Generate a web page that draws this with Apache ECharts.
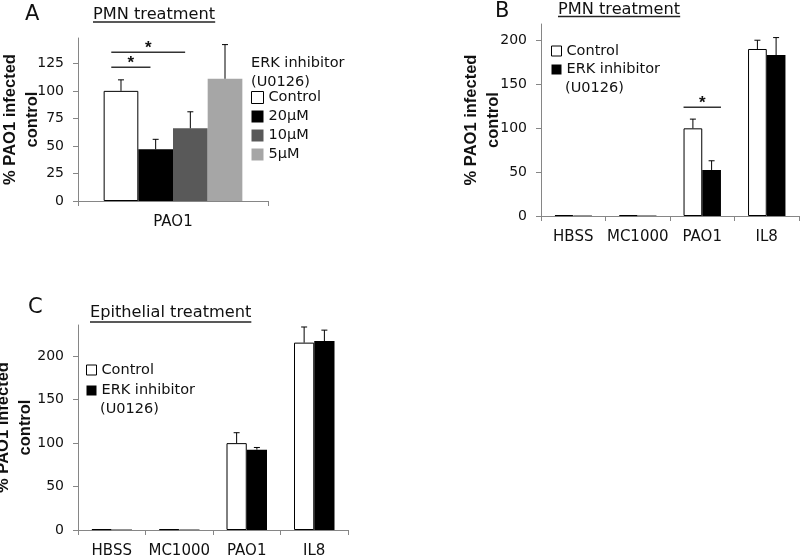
<!DOCTYPE html>
<html>
<head>
<meta charset="utf-8">
<script src="https://cdn.jsdelivr.net/npm/echarts@6/dist/echarts.min.js"></script>
<style>
html,body{margin:0;padding:0;background:#fff;}
#chart{width:800px;height:558px;}
</style>
</head>
<body>
<div id="chart"></div>
<script>
// ---------- DATA ----------
// Panel A (PMN treatment, PAO1)
const catsA = ['PAO1'];
const namesA = ['Control', '20µM', '10µM', '5µM'];
const valControlA = [100];
const val20A = [47];
const val10A = [66];
const val5A = [111];
const errControlA = [10];
const err20A = [9];
const err10A = [15];
const err5A = [31];
const ticksA = [0, 25, 50, 75, 100, 125];
// significance: [category, fromBar, toBar, y]
const sigA = [[0, 0, 1, 121.5], [0, 0, 2, 135]];

// Panel B (PMN treatment)
const catsB = ['HBSS', 'MC1000', 'PAO1', 'IL8'];
const valControlB = [1, 1, 100, 190.5];
const valErkB = [0.5, 0.5, 52.5, 183.5];
const errControlB = [0, 0, 10.5, 10];
const errErkB = [0, 0, 10.5, 20];
const ticksB = [0, 50, 100, 150, 200];
const sigB = [[2, 0, 1, 124]];

// Panel C (Epithelial treatment)
const catsC = ['HBSS', 'MC1000', 'PAO1', 'IL8'];
const valControlC = [1, 1, 100, 215.7];
const valErkC = [0.5, 0.5, 92.5, 217.6];
const errControlC = [0, 0, 12, 18];
const errErkC = [0, 0, 2.5, 12.5];
const ticksC = [0, 50, 100, 150, 200];

const erkName = 'ERK inhibitor (U0126)';

// ---------- STYLE ----------
const FONT = 'DejaVu Sans';
const TXT = '#111';
const AXIS = '#868686';
const styles = {
  'Control': {color: '#fff', borderColor: '#000', borderWidth: 1},
  '20µM': {color: '#000'},
  '10µM': {color: '#595959'},
  '5µM': {color: '#a6a6a6'},
  [erkName]: {color: '#000'}
};

function errRender(n, i, gap) {
  return function (params, api) {
    const x = api.value(0), v = api.value(1), e = api.value(2);
    if (!e) return null;
    const band = api.size([1, 0])[0];
    const bw = band * (1 - gap) / n;
    const c = api.coord([x, v]);
    const t = api.coord([x, v + e]);
    const cx = c[0] + (i - (n - 1) / 2) * bw;
    return {type: 'group', children: [
      {type: 'line', shape: {x1: cx, y1: c[1], x2: cx, y2: t[1]}, style: {stroke: '#000', lineWidth: 1}},
      {type: 'line', shape: {x1: cx - 3, y1: t[1], x2: cx + 3, y2: t[1]}, style: {stroke: '#000', lineWidth: 1}}
    ]};
  };
}
function sigRender(n, gap, startF, endF) {
  return function (params, api) {
    const x = api.value(0), a = api.value(1), b = api.value(2), y = api.value(3);
    const band = api.size([1, 0])[0];
    const bw = band * (1 - gap) / n;
    const c = api.coord([x, y]);
    const ca = c[0] + (a - (n - 1) / 2) * bw + startF * bw;
    const cb = c[0] + (b - (n - 1) / 2) * bw + endF * bw;
    return {type: 'group', children: [
      {type: 'line', shape: {x1: ca, y1: c[1], x2: cb, y2: c[1]}, style: {stroke: '#333', lineWidth: 1.5}},
      {type: 'text', x: (ca + cb) / 2, y: c[1] - 4, style: {text: '*', font: 'bold 17px "Liberation Sans"', fill: '#111', align: 'center', verticalAlign: 'middle'}}
    ]};
  };
}

function barSeries(name, data, xi, gap) {
  return {type: 'bar', name: name, data: data, xAxisIndex: xi, yAxisIndex: xi,
    barGap: '0%', barCategoryGap: (gap * 100) + '%', itemStyle: styles[name], z: 2, silent: true};
}
function errSeries(vals, errs, xi, n, i, gap) {
  return {type: 'custom', name: 'err' + xi + '_' + i, xAxisIndex: xi, yAxisIndex: xi, z: 5,
    data: vals.map((v, k) => [k, v, errs[k]]), encode: {x: 0, y: 1}, renderItem: errRender(n, i, gap), silent: true};
}
function sigSeries(sig, xi, n, gap, sf, ef) {
  return {type: 'custom', name: 'sig' + xi, xAxisIndex: xi, yAxisIndex: xi, z: 6,
    data: sig, encode: {x: 0, y: 3}, renderItem: sigRender(n, gap, sf, ef), silent: true};
}

function xAxis(cats, gi) {
  return {type: 'category', data: cats, gridIndex: gi,
    axisLine: {lineStyle: {color: AXIS, width: 1}},
    axisTick: {show: true, length: 5, lineStyle: {color: AXIS}},
    axisLabel: {fontFamily: FONT, fontSize: 15, color: TXT, margin: 14, interval: 0, hideOverlap: false}};
}
function yAxis(gi, max, ticks, gap) {
  return {type: 'value', gridIndex: gi, min: 0, max: max,
    name: '% PAO1 infected\ncontrol', nameLocation: 'middle', nameGap: gap, nameMoveOverlap: false,
    nameTextStyle: {fontFamily: 'Liberation Sans', fontWeight: 'bold', fontSize: 16.5, lineHeight: 22, color: TXT},
    axisLine: {show: true, lineStyle: {color: AXIS, width: 1}},
    axisTick: {show: true, length: 5, lineStyle: {color: AXIS}, customValues: ticks},
    axisLabel: {fontFamily: FONT, fontSize: 14, color: TXT, margin: 14, customValues: ticks},
    splitLine: {show: false}};
}

const gapA = 0.27, gapB = 0.42, gapC = 0.40;

function textWidth(t, font) {
  const ctx = document.createElement('canvas').getContext('2d');
  ctx.font = font;
  return ctx.measureText(t).width;
}
const HEAD_SIZE = 16.2;
const headFont = HEAD_SIZE + 'px "DejaVu Sans"';
function heading(text, left, top) {
  return {text: text, left: left, top: top, padding: 0,
    textStyle: {fontFamily: FONT, fontSize: HEAD_SIZE, fontWeight: 'normal', color: TXT}};
}
function letter(text, left, top) {
  return {text: text, left: left, top: top, padding: 0,
    textStyle: {fontFamily: FONT, fontSize: 21, fontWeight: 'normal', color: TXT}};
}
function plain(text, left, top) {
  return {text: text, left: left, top: top, padding: 0,
    textStyle: {fontFamily: FONT, fontSize: 14.5, fontWeight: 'normal', color: TXT, lineHeight: 18.7}};
}
function underline(text, x, y) {
  const w = textWidth(text, headFont);
  return {type: 'line', shape: {x1: x, y1: y, x2: x + w, y2: y}, style: {stroke: '#222', lineWidth: 1.3}, silent: true};
}

function legendItem(name) {
  return {name: name, icon: 'rect', itemStyle: styles[name]};
}
const legText = {fontFamily: FONT, fontSize: 14.5, color: TXT};
const legFmt = n => n === erkName ? 'ERK inhibitor' : n;

const option = {
  animation: false,
  backgroundColor: '#fff',
  title: [
    letter('A', 25, 4), heading('PMN treatment', 93, 7),
    plain('ERK inhibitor\n(U0126)', 251, 54),
    letter('B', 495, 1), heading('PMN treatment', 558, 2),
    plain('(U0126)', 565, 78.5),
    letter('C', 28, 297), heading('Epithelial treatment', 90, 305),
    plain('(U0126)', 100, 399.5)
  ],
  graphic: [
    underline('PMN treatment', 93, 22),
    underline('PMN treatment', 558, 16.5),
    underline('Epithelial treatment', 90, 322)
  ],
  legend: [
    {orient: 'vertical', left: 251, top: 90, itemWidth: 12, itemHeight: 12, itemGap: 4, padding: 0,
      selectedMode: false, textStyle: legText,
      data: namesA.map(n => legendItem(n))},
    {orient: 'vertical', left: 551, top: 43.5, itemWidth: 10, itemHeight: 10, itemGap: 3.5, padding: 0,
      selectedMode: false, textStyle: legText, formatter: legFmt,
      data: [legendItem('Control'), legendItem(erkName)]},
    {orient: 'vertical', left: 86, top: 362.5, itemWidth: 10, itemHeight: 10, itemGap: 5.5, padding: 0,
      selectedMode: false, textStyle: legText, formatter: legFmt,
      data: [legendItem('Control'), legendItem(erkName)]}
  ],
  grid: [
    {left: 78, top: 38, width: 190, height: 163, outerBoundsMode: 'none', containLabel: false},
    {left: 541, top: 24, width: 258, height: 192, outerBoundsMode: 'none', containLabel: false},
    {left: 78, top: 325, width: 270, height: 205, outerBoundsMode: 'none', containLabel: false}
  ],
  xAxis: [xAxis(catsA, 0), xAxis(catsB, 1), xAxis(catsC, 2)],
  yAxis: [yAxis(0, 148, ticksA, 35), yAxis(1, 219, ticksB, 37), yAxis(2, 236, ticksC, 42)],
  series: [
    barSeries('Control', valControlA, 0, gapA),
    barSeries('20µM', val20A, 0, gapA),
    barSeries('10µM', val10A, 0, gapA),
    barSeries('5µM', val5A, 0, gapA),
    errSeries(valControlA, errControlA, 0, 4, 0, gapA),
    errSeries(val20A, err20A, 0, 4, 1, gapA),
    errSeries(val10A, err10A, 0, 4, 2, gapA),
    errSeries(val5A, err5A, 0, 4, 3, gapA),
    sigSeries(sigA, 0, 4, gapA, -0.28, -0.15),

    barSeries('Control', valControlB, 1, gapB),
    barSeries(erkName, valErkB, 1, gapB),
    errSeries(valControlB, errControlB, 1, 2, 0, gapB),
    errSeries(valErkB, errErkB, 1, 2, 1, gapB),
    sigSeries(sigB, 1, 2, gapB, -0.5, 0.5),

    barSeries('Control', valControlC, 2, gapC),
    barSeries(erkName, valErkC, 2, gapC),
    errSeries(valControlC, errControlC, 2, 2, 0, gapC),
    errSeries(valErkC, errErkC, 2, 2, 1, gapC)
  ]
};

const chart = echarts.init(document.getElementById('chart'), null, {renderer: 'canvas'});
chart.setOption(option);
</script>
</body>
</html>
